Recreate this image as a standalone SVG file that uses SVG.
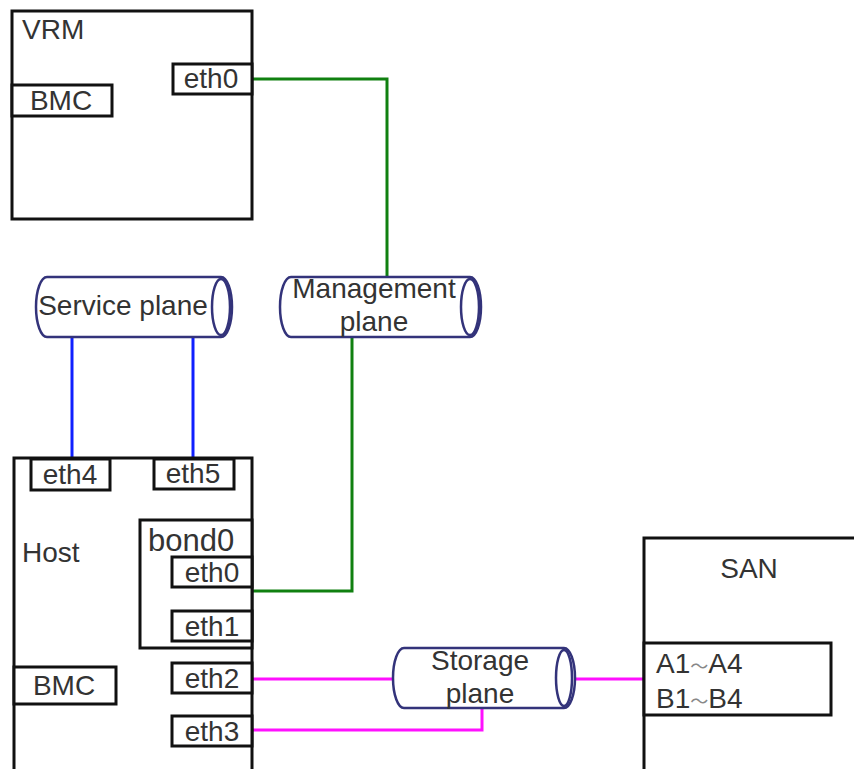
<svg xmlns="http://www.w3.org/2000/svg" width="854" height="769" viewBox="0 0 854 769">
<style>
.box{fill:#fff;stroke:#111;stroke-width:3}
.port{fill:#fff;stroke:#111;stroke-width:3}
.t{font-family:"Liberation Sans",Arial,sans-serif;font-size:28px;fill:#333}
.tm{text-anchor:middle}
.cyl{fill:#fff;stroke:#33337a;stroke-width:2.5}
.g{fill:none;stroke:#108010;stroke-width:3}
.b{fill:none;stroke:#1020ff;stroke-width:3}
.p{fill:none;stroke:#ff10ff;stroke-width:3}
.tl{font-family:"Noto Sans CJK SC",sans-serif;font-size:18px;fill:#888}
</style>
<rect width="854" height="769" fill="#fff"/>
<g id="connectors">
<polyline class="g" points="252,79 387,79 387,277"/>
<polyline class="g" points="352,337 352,591 252,591"/>
<line class="b" x1="72" y1="337" x2="72" y2="459"/>
<line class="b" x1="193" y1="337" x2="193" y2="459"/>
<line class="p" x1="252" y1="679" x2="394" y2="679"/>
<polyline class="p" points="252,730 482,730 482,708"/>
<line class="p" x1="574" y1="679" x2="645" y2="679"/>
</g>
<g id="vrm">
<rect class="box" x="12" y="11" width="240" height="208"/>
<text class="t" x="22" y="39">VRM</text>
</g>
<g id="vrm-bmc">
<rect class="port" x="12" y="85" width="100" height="31"/>
<text class="t tm" x="61" y="110">BMC</text>
</g>
<g id="vrm-eth0">
<rect class="port" x="173" y="64" width="79" height="30"/>
<text class="t tm" x="211" y="88">eth0</text>
</g>
<g id="service-plane">
<path class="cyl" d="M47,277 L221,277 A11,30 0 0 1 221,337 L47,337 A11,30 0 0 1 47,277 Z"/>
<ellipse class="cyl" cx="221" cy="307" rx="9" ry="28"/>
<text class="t tm" x="123" y="315">Service plane</text>
</g>
<g id="management-plane">
<path class="cyl" d="M291,277 L470,277 A11,30 0 0 1 470,337 L291,337 A11,30 0 0 1 291,277 Z"/>
<ellipse class="cyl" cx="470" cy="307" rx="9" ry="28"/>
<text class="t tm" x="374" y="298">Management</text>
<text class="t tm" x="374" y="331">plane</text>
</g>
<g id="host">
<rect class="box" x="14" y="458" width="238" height="320"/>
<text class="t" x="22" y="562">Host</text>
</g>
<g id="host-eth4">
<rect class="port" x="31" y="459" width="79" height="31"/>
<text class="t tm" x="70" y="484">eth4</text>
</g>
<g id="host-eth5">
<rect class="port" x="154" y="459" width="80" height="30"/>
<text class="t tm" x="193" y="483">eth5</text>
</g>
<g id="bond0">
<rect class="box" x="140" y="520" width="112" height="128"/>
<text class="t" x="148" y="551" style="font-size:31px">bond0</text>
</g>
<g id="host-eth0">
<rect class="port" x="172" y="557" width="80" height="30"/>
<text class="t tm" x="212" y="582">eth0</text>
</g>
<g id="host-eth1">
<rect class="port" x="172" y="611" width="80" height="30"/>
<text class="t tm" x="212" y="636">eth1</text>
</g>
<g id="host-eth2">
<rect class="port" x="172" y="663" width="80" height="30"/>
<text class="t tm" x="212" y="688">eth2</text>
</g>
<g id="host-eth3">
<rect class="port" x="172" y="716" width="80" height="30"/>
<text class="t tm" x="212" y="741">eth3</text>
</g>
<g id="host-bmc">
<rect class="port" x="14" y="667" width="102" height="37"/>
<text class="t tm" x="64" y="695">BMC</text>
</g>
<g id="storage-plane">
<path class="cyl" d="M404,648 L564,648 A11,30 0 0 1 564,708 L404,708 A11,30 0 0 1 404,648 Z"/>
<ellipse class="cyl" cx="564" cy="678" rx="8" ry="28"/>
<text class="t tm" x="480" y="670">Storage</text>
<text class="t tm" x="480" y="703">plane</text>
</g>
<g id="san">
<rect class="box" x="644" y="538" width="230" height="250"/>
<text class="t tm" x="749" y="578">SAN</text>
</g>
<g id="san-ports">
<rect class="port" x="644" y="643" width="187" height="72"/>
<text class="t" x="656" y="673">A1<tspan class="tl">～</tspan>A4</text>
<text class="t" x="656" y="708">B1<tspan class="tl">～</tspan>B4</text>
</g>
</svg>
